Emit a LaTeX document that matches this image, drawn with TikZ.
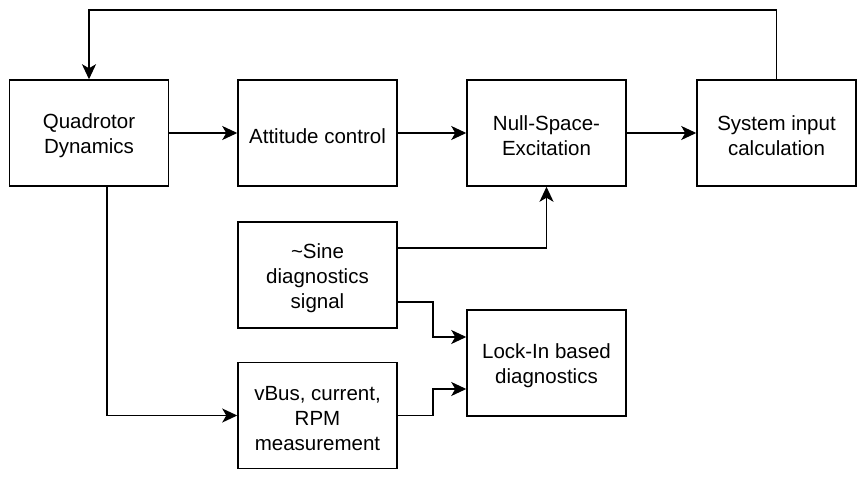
\documentclass[tikz,border=0pt]{standalone}
\usepackage{fontspec}
\setmainfont{Liberation Sans}
\usetikzlibrary{arrows.meta,calc}
\begin{document}
\begin{tikzpicture}[x=1pt,y=1pt,
  blk/.style={draw=black,line width=1.5pt,minimum width=159pt,minimum height=106pt,
    inner sep=0pt,
    label={[align=center,inner sep=0pt,yshift=-3pt,font=\fontsize{20.5}{25}\selectfont]center:{#1}}},
  conn/.style={line width=1.5pt,-{Stealth[length=15pt,width=14pt,inset=4pt]}},
  line join=miter]
\useasboundingbox (0,0) rectangle (865,-479);
\node[blk={Quadrotor\\Dynamics}] (q) at (89,-133) {};
\node[blk={Attitude control}] (a) at (317.5,-133) {};
\node[blk={Null-Space-\\Excitation}] (n) at (546.5,-133) {};
\node[blk={System input\\calculation}] (s) at (776.5,-133) {};
\node[blk={\textasciitilde Sine\\diagnostics\\signal}] (sine) at (317.5,-275) {};
\node[blk={Lock-In based\\diagnostics}] (lock) at (546.5,-363) {};
\node[blk={vBus, current,\\RPM\\measurement}] (v) at (317.5,-415.5) {};
\coordinate (top) at (0,-10);
\draw[conn] (q.east) -- (a.west);
\draw[conn] (a.east) -- (n.west);
\draw[conn] (n.east) -- (s.west);
\draw[conn] (s.north) -- (s.north |- top) -- (q.north |- top) -- (q.north);
\draw[conn] ([yshift=27pt]sine.east) -| (n.south);
\draw[conn] ([yshift=-27pt]sine.east) -- ++(35,0) |- ([yshift=26pt]lock.west);
\draw[conn] (v.east) -- ++(35,0) |- ([yshift=-26pt]lock.west);
\draw[conn] ([xshift=18pt]q.south) |- (v.west);
\end{tikzpicture}
\end{document}
